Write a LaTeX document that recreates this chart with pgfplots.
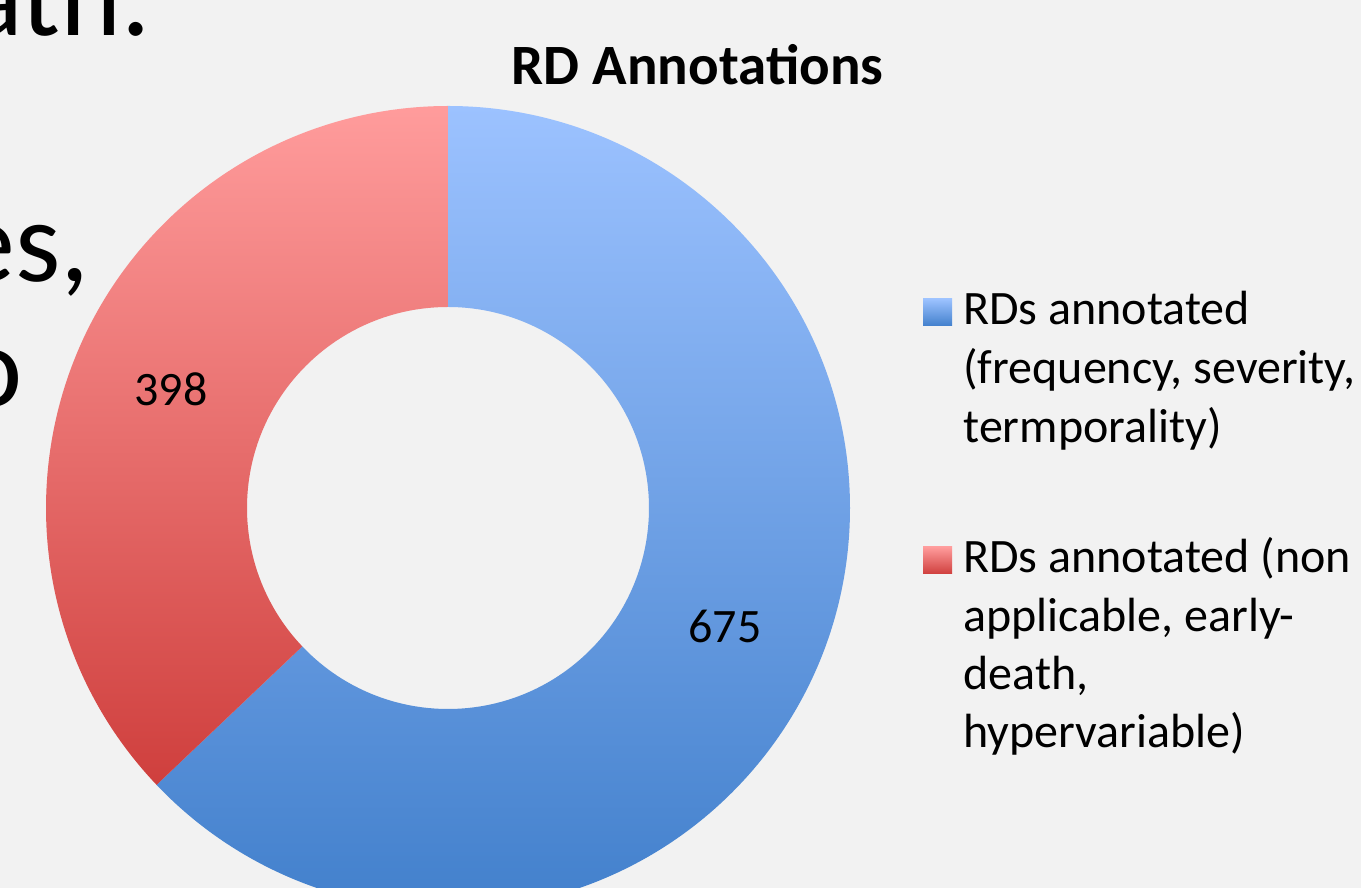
\documentclass[border=0pt]{standalone}
\usepackage{pgfplots}
\pgfplotsset{compat=1.18}
\usepackage{pgfplotstable}
\usepackage{fontspec}
\setmainfont{Carlito}
\definecolor{bg}{HTML}{F2F2F2}
\definecolor{blueTop}{HTML}{9CC2FF}
\definecolor{blueBot}{HTML}{4280CC}
\definecolor{redTop}{HTML}{FF9C9C}
\definecolor{redBot}{HTML}{CF3F3D}

\pgfplotstableread{
name value
annotated 675
nonapplicable 398
}\rdtable

\pgfplotstablegetelem{0}{value}\of{\rdtable}\let\va\pgfplotsretval
\pgfplotstablegetelem{1}{value}\of{\rdtable}\let\vb\pgfplotsretval
\pgfmathsetmacro\tot{\va+\vb}
\pgfmathsetmacro\fa{\va/\tot}
\pgfmathsetmacro\fb{\vb/\tot}
\pgfmathsetmacro\aA{90}
\pgfmathsetmacro\aB{90-360*\fa}
\pgfmathsetmacro\aC{\aB-360*\fb}
\pgfmathsetmacro\mA{(\aA+\aB)/2}
\pgfmathsetmacro\mB{(\aB+\aC)/2}

\begin{document}
\begin{tikzpicture}
\path[use as bounding box, clip] (0,0) rectangle (680.5pt,444pt);
\fill[bg] (0,0) rectangle (680.5pt,444pt);
\begin{axis}[at={(0,0)}, anchor=south west, scale only axis,
  width=680.5pt, height=444pt, xmin=0, xmax=1361, ymin=0, ymax=888,
  hide axis, clip=false]
% slide text fragments behind the chart
\node[anchor=base east, inner sep=0pt, font=\fontsize{58pt}{70pt}\selectfont] at (axis cs:151,852) {ath.};
\node[anchor=base east, inner sep=0pt, font=\fontsize{58pt}{70pt}\selectfont] at (axis cs:90,606) {es,};
\node[anchor=base east, inner sep=0pt, font=\fontsize{58pt}{70pt}\selectfont] at (axis cs:23,481) {o};
% donut
\coordinate (C) at (axis cs:448,380);
\shade[top color=blueTop, bottom color=blueBot]
  ([shift={(\aA:201pt)}]C) arc[start angle=\aA, end angle=\aB, radius=201pt]
  -- ([shift={(\aB:100.5pt)}]C) arc[start angle=\aB, end angle=\aA, radius=100.5pt] -- cycle;
\shade[top color=redTop, bottom color=redBot]
  ([shift={(\aB:201pt)}]C) arc[start angle=\aB, end angle=\aC, radius=201pt]
  -- ([shift={(\aC:100.5pt)}]C) arc[start angle=\aC, end angle=\aB, radius=100.5pt] -- cycle;
% data labels
\node[inner sep=0pt, font=\fontsize{24pt}{29pt}\selectfont] at ([shift={(\mA:150.75pt)}]C) {\va};
\node[inner sep=0pt, font=\fontsize{24pt}{29pt}\selectfont] at ([shift={(\mB:150.75pt)}]C) {\vb};
% title
\node[anchor=base, inner sep=0pt, font=\bfseries\fontsize{28.5pt}{34pt}\selectfont] at (axis cs:697.5,803) {RD Annotations};
% legend
\shade[top color=blueTop, bottom color=blueBot] (axis cs:923,562) rectangle (axis cs:952,589);
\shade[top color=redTop, bottom color=redBot] (axis cs:923,314) rectangle (axis cs:952,341);
\begin{scope}[every node/.style={anchor=base west, inner sep=0pt, font=\fontsize{24pt}{29pt}\selectfont}]
\node at (axis cs:963,563) {RDs annotated};
\node at (axis cs:963,504) {(frequency, severity,};
\node at (axis cs:963,445) {termporality)};
\node at (axis cs:963,315) {RDs annotated (non};
\node at (axis cs:963,256) {applicable, early-};
\node at (axis cs:963,198) {death,};
\node at (axis cs:963,140) {hypervariable)};
\end{scope}
\end{axis}
\end{tikzpicture}
\end{document}
